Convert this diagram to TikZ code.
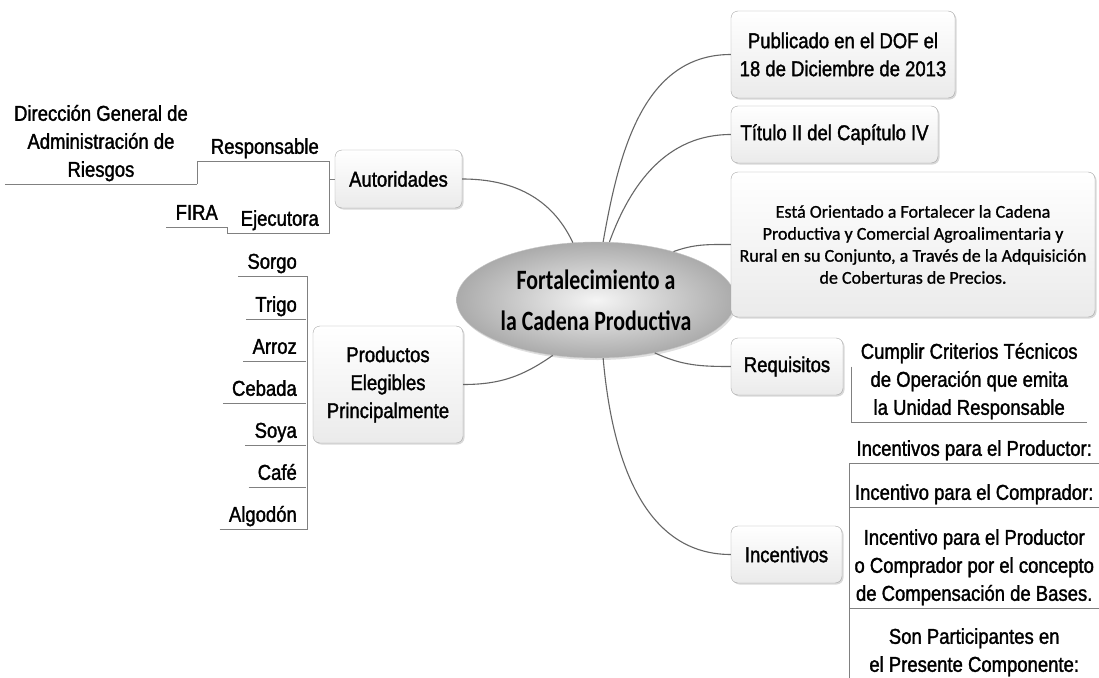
\documentclass[tikz,border=0pt]{standalone}
\usepackage{fontspec}
\setmainfont{Liberation Sans}[FakeStretch=0.86, FakeBold=1.5]
\newfontfamily\calfont{Carlito}[FakeBold=1]
\newfontfamily\calnarrow{Carlito}[FakeStretch=0.78]
\usetikzlibrary{shapes.geometric, shadows, positioning}

\begin{document}
\begin{tikzpicture}[x=1pt, y=-1pt,
		font=\fontsize{21.5}{28}\selectfont,
		topic/.style={draw=black!35, rounded corners=7pt, top color=white, bottom color=black!8, align=center, inner sep=2pt, drop shadow={shadow xshift=1.5pt, shadow yshift=-1.5pt, opacity=0.3}},
		leaf/.style={align=center, inner xsep=9pt, inner ysep=2pt, text depth=5pt},
		leafline/.style={draw=black!50, line width=0.8pt},
		link/.style={draw=black!60, line width=1.1pt}
	]
			\fill[white] (0,0) rectangle (1099,677);
			\useasboundingbox (0,0) rectangle (1099,677);

			\node[ellipse, draw=black!22, inner color=black!4, outer color=black!33, minimum width=224pt, minimum height=116pt, align=center, font=\calnarrow\bfseries\fontsize{28}{41}\selectfont, drop shadow={shadow xshift=1.5pt, shadow yshift=-2pt, opacity=0.25}] (core) at (596,300) {Fortalecimiento a\\la Cadena Productiva};

			\node[topic, minimum width=127pt, minimum height=58pt] (autor) at (398.5,179) {Autoridades};
			\node[topic, minimum width=150pt, minimum height=117pt] (prod) at (388,384.5) {Productos\\Elegibles\\Principalmente};
			\node[topic, minimum width=224pt, minimum height=87pt] (pub) at (843,54.5) {Publicado en el DOF el\\18 de Diciembre de 2013};
			\node[topic, minimum width=207pt, minimum height=57pt] (tit) at (834.5,134.5) {Título II del Capítulo IV};
			\node[topic, minimum width=364pt, minimum height=145pt, font=\calfont\fontsize{18}{22}\selectfont] (esta) at (913,244.5) {Está Orientado a Fortalecer la Cadena\\Productiva y Comercial Agroalimentaria y\\Rural en su Conjunto, a Través de la Adquisición\\de Coberturas de Precios.};
			\node[topic, minimum width=112pt, minimum height=57pt] (req) at (787,366.5) {Requisitos};
			\node[topic, minimum width=111pt, minimum height=57pt] (inc) at (786.5,554.5) {Incentivos};

			\node[leaf, anchor=south east] (resp) at (328,161) {Responsable};
			\node[leaf, anchor=south east] (ejec) at (328,233) {Ejecutora};
			\node[leaf, anchor=south east] (dir) at (197,184) {Dirección General de\\Administración de\\Riesgos};
			\node[leaf, anchor=south east] (fira) at (227,227) {FIRA};

			\node[leaf, anchor=south east] (sorgo) at (306,276) {Sorgo};
			\node[leaf, anchor=south east] (trigo) at (306,319) {Trigo};
			\node[leaf, anchor=south east] (arroz) at (306,361) {Arroz};
			\node[leaf, anchor=south east] (cebada) at (306,403) {Cebada};
			\node[leaf, anchor=south east] (soya) at (306,445) {Soya};
			\node[leaf, anchor=south east] (cafe) at (306,487) {Café};
			\node[leaf, anchor=south east] (algodon) at (306,529) {Algodón};

			\node[leaf, anchor=south west, minimum width=236pt] (cumplir) at (851,422) {Cumplir Criterios Técnicos\\de Operación que emita\\la Unidad Responsable};
			\node[leaf, anchor=south west, minimum width=250pt, inner xsep=3pt] (ip1) at (849,463) {Incentivos para el Productor:};
			\node[leaf, anchor=south west, minimum width=250pt, inner xsep=3pt] (ip2) at (849,507) {Incentivo para el Comprador:};
			\node[leaf, anchor=south west, minimum width=250pt, inner xsep=3pt] (ip3) at (849,608) {Incentivo para el Productor\\o Comprador por el concepto\\de Compensación de Bases.};
			\node[leaf, anchor=south west, minimum width=250pt, inner xsep=3pt] (ip4) at (849,679) {Son Participantes en\\el Presente Componente:};

			\draw[leafline] (resp.south west) -- (resp.south east);
			\draw[leafline] (ejec.south west) -- (ejec.south east);
			\draw[leafline] (dir.south west) -- (dir.south east);
			\draw[leafline] (fira.south west) -- (fira.south east);
			\draw[leafline] (sorgo.south west) -- (sorgo.south east);
			\draw[leafline] (trigo.south west) -- (trigo.south east);
			\draw[leafline] (arroz.south west) -- (arroz.south east);
			\draw[leafline] (cebada.south west) -- (cebada.south east);
			\draw[leafline] (soya.south west) -- (soya.south east);
			\draw[leafline] (cafe.south west) -- (cafe.south east);
			\draw[leafline] (algodon.south west) -- (algodon.south east);
			\draw[leafline] (cumplir.south west) -- (cumplir.south east);
			\draw[leafline] (ip1.south west) -- (ip1.south east);
			\draw[leafline] (ip2.south west) -- (ip2.south east);
			\draw[leafline] (ip3.south west) -- (ip3.south east);

			\coordinate (autbr) at ([xshift=-5pt]autor.west);
			\coordinate (prodbr) at ([xshift=-5pt]prod.west);
			\draw[leafline] (resp.south east) -| (autbr) |- (ejec.south east);
			\draw[leafline] (autbr) -- (autor.west);
			\draw[leafline] (dir.south east) |- (resp.south west);
			\draw[leafline] (fira.south east) |- (ejec.south west);
			\draw[leafline] (sorgo.south east) -| (prodbr) |- (algodon.south east);
			\draw[leafline] ([xshift=8pt]req.east) |- (cumplir.south west);
			\draw[leafline] (ip1.south west) -- (ip4.south west);

			\draw[link] (autor.east) to[out=0, in=115] (core.112);
			\draw[link] (core.83) to[out=80, in=180] (pub.west);
			\draw[link] (core.77) to[out=70, in=180] (tit.west);
			\draw[link] (core.32) to[out=20, in=180] (esta.west);
			\draw[link] (core.232) to[out=215, in=0] (prod.east);
			\draw[link] (core.318) to[out=-25, in=180] (req.west);
			\draw[link] (core.277) to[out=-85, in=180] (inc.west);

		\end{tikzpicture}
\end{document}
